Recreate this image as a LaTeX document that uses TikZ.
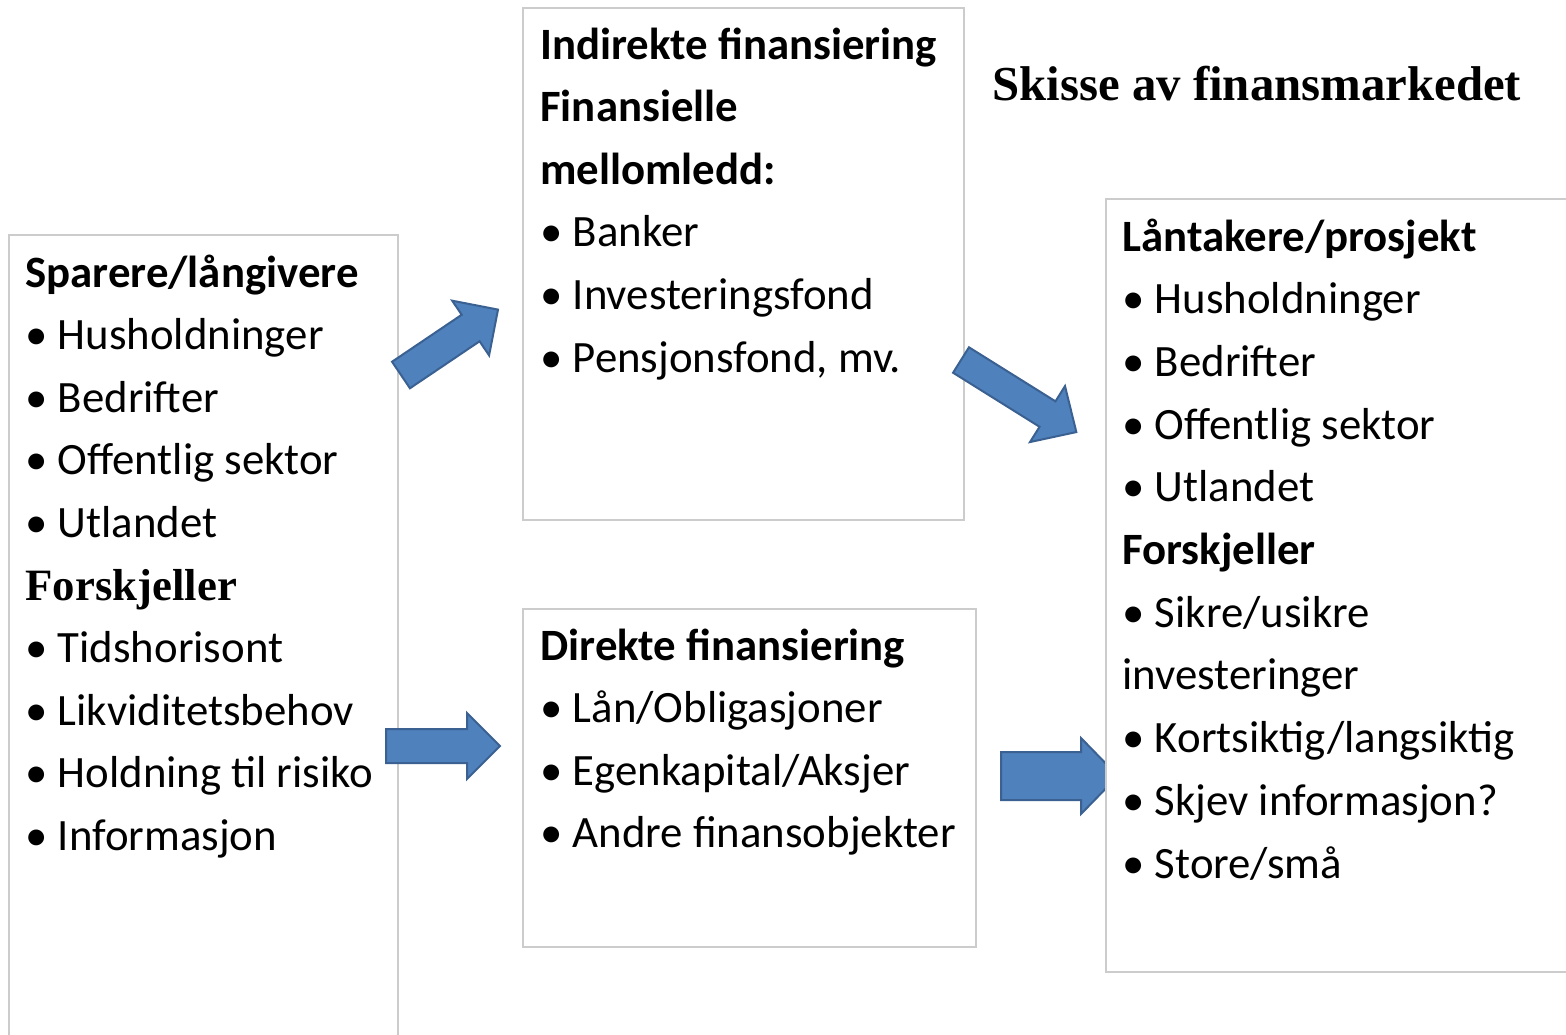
\documentclass[tikz,border=0pt]{standalone}
\usepackage{fontspec}
\setmainfont{Carlito}
\newfontfamily\timesfont{Liberation Serif}
\begin{document}
\begin{tikzpicture}[x=0.5pt,y=-0.5pt,
  panel/.style={draw=black!20, line width=1pt, fill=white, anchor=north west, inner sep=0pt},
  blockarrow/.style={fill=arrowblue, draw=arrowedge, line width=1pt, line join=miter},
  txt/.style={anchor=base west, inner sep=0pt, font=\fontsize{22.4}{26}\selectfont},
]
\definecolor{arrowblue}{HTML}{4F81BD}
\definecolor{arrowedge}{HTML}{3A6191}
\useasboundingbox (0,0) rectangle (1566,1034);
\clip (0,0) rectangle (1566,1034);

% block arrow: tail centre, angle, length, shaft half width, head half width, head length
\newcommand\blockarr[6]{%
  \begin{scope}[shift={(#1)}, rotate=#2]
    \draw[blockarrow] (0,-#4) -- ({#3-#6},-#4) -- ({#3-#6},-#5) -- (#3,0)
      -- ({#3-#6},#5) -- ({#3-#6},#4) -- (0,#4) -- cycle;
  \end{scope}}

% panels (sizes in pt: one picture unit is 0.5pt)
\node[panel, minimum width=194.5pt, minimum height=410pt] (savers) at (8,234) {};
\node[panel, minimum width=220.5pt, minimum height=256pt] (indirect) at (522,7) {};
\node[panel, minimum width=226.5pt, minimum height=169pt] (direct) at (522,608) {};

% left panel text
\foreach \t [count=\i from 0] in {%
  {\bfseries Sparere/långivere},
  {• Husholdninger},
  {• Bedrifter},
  {• Offentlig sektor},
  {• Utlandet},
  {{\timesfont\bfseries Forskjeller}},
  {• Tidshorisont},
  {• Likviditetsbehov},
  {• Holdning til risiko},
  {• Informasjon}}
  \node[txt] (s\i) at (25,{287+62.6*\i}) {\t};

% indirect financing text
\foreach \t [count=\i from 0] in {%
  {\bfseries Indirekte finansiering},
  {\bfseries Finansielle},
  {\bfseries mellomledd:},
  {• Banker},
  {• Investeringsfond},
  {• Pensjonsfond, mv.}}
  \node[txt] (ind\i) at (540,{59+62.6*\i}) {\t};

% direct financing text
\foreach \t [count=\i from 0] in {%
  {\bfseries Direkte finansiering},
  {• Lån/Obligasjoner},
  {• Egenkapital/Aksjer},
  {• Andre finansobjekter}}
  \node[txt] (dir\i) at (540,{660+62.6*\i}) {\t};

% arrows
\blockarr{401,375}{34}{117}{16}{33}{33}
\blockarr{961,360}{-32}{136}{15}{33}{34}
\blockarr{386,746}{0}{114}{17}{33}{33}
\blockarr{1001,776}{0}{117}{24}{38}{37}

% borrowers panel (on top of the last arrow)
\node[panel, minimum width=235pt, minimum height=386.5pt] (borrowers) at (1105,198) {};
\foreach \t [count=\i from 0] in {%
  {\bfseries Låntakere/prosjekt},
  {• Husholdninger},
  {• Bedrifter},
  {• Offentlig sektor},
  {• Utlandet},
  {\bfseries Forskjeller},
  {• Sikre/usikre},
  {investeringer},
  {• Kortsiktig/langsiktig},
  {• Skjev informasjon?},
  {• Store/små}}
  \node[txt] (b\i) at (1122,{251+62.7*\i}) {\t};

% title
\node[anchor=base west, inner sep=0pt, font=\fontsize{24.4}{28}\selectfont\timesfont\bfseries] (title) at (992,100) {Skisse av finansmarkedet};
\end{tikzpicture}
\end{document}
